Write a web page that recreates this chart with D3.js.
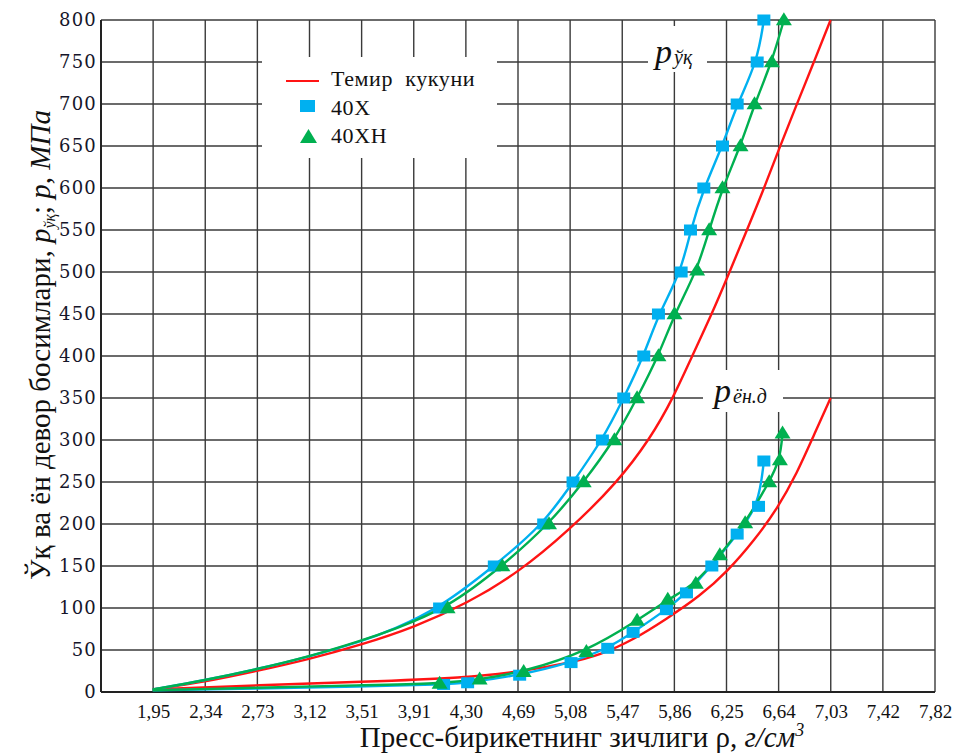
<!DOCTYPE html>
<html>
<head>
<meta charset="utf-8">
<script src="https://cdn.jsdelivr.net/npm/d3@7"></script>
<style>
  body { margin: 0; background: #fff; }
  svg { display: block; }
  svg text { font-family: "Liberation Serif", "Times New Roman", serif; }
  svg .y-axis text { font-family: "DejaVu Serif", serif; }
</style>
</head>
<body>
<div id="chart"></div>
<script>
// ---------------------------------------------------------------------------
// Data
const xTickLabels = ['1,95', '2,34', '2,73', '3,12', '3,51', '3,91', '4,30', '4,69',
  '5,08', '5,47', '5,86', '6,25', '6,64', '7,03', '7,42', '7,82'];
const yTickValues = [0, 50, 100, 150, 200, 250, 300, 350, 400, 450, 500, 550, 600, 650, 700, 750, 800];

// Темир кукуни (fitted curves only)
const ironUpper = [[1.95, 3], [2.34, 12], [2.73, 25], [3.12, 39], [3.51, 56], [3.91, 77],
  [4.30, 105], [4.69, 142], [5.08, 194], [5.43, 249], [5.68, 302], [5.85, 350], [5.99, 399],
  [6.14, 450], [6.26, 495], [6.39, 545], [6.52, 595], [6.64, 645], [6.77, 697], [6.90, 748], [7.03, 800]];
const ironLower = [[1.95, 3], [2.73, 8], [3.51, 12], [4.30, 17], [4.70, 24], [5.08, 35],
  [5.30, 44], [5.55, 62], [5.80, 87], [6.05, 114], [6.26, 144], [6.46, 181], [6.63, 218],
  [6.78, 261], [6.90, 304], [7.03, 350]];

// 40Х
const blueUpperStart = [[1.95, 3], [2.34, 14], [2.73, 27], [3.12, 42], [3.51, 60], [3.75, 74]];
const blueUpper = [[4.10, 100], [4.51, 150], [4.88, 200], [5.10, 250], [5.32, 300], [5.48, 350],
  [5.63, 400], [5.74, 450], [5.91, 500], [5.98, 550], [6.08, 600], [6.22, 650], [6.33, 700],
  [6.48, 750], [6.53, 800]];
const blueLowerStart = [[1.95, 2], [2.73, 4], [3.51, 6.5]];
const blueLower = [[4.13, 9], [4.31, 11], [4.70, 20], [5.085, 35], [5.36, 52], [5.55, 71],
  [5.80, 98], [5.95, 118], [6.14, 150], [6.33, 188], [6.49, 221], [6.53, 275]];

// 40ХН
const greenUpperStart = [[1.95, 3], [2.34, 14], [2.73, 27], [3.12, 42], [3.51, 61], [3.75, 74]];
const greenUpper = [[4.16, 100], [4.57, 150], [4.92, 200], [5.18, 250], [5.41, 300], [5.58, 350],
  [5.74, 400], [5.86, 450], [6.03, 502], [6.12, 550], [6.22, 600], [6.355, 650], [6.46, 700],
  [6.59, 750], [6.68, 800]];
const greenLowerStart = [[1.95, 2], [2.73, 5], [3.51, 8]];
const greenLower = [[4.10, 10], [4.40, 15], [4.73, 24], [5.20, 48], [5.58, 85], [5.81, 110],
  [6.02, 129], [6.20, 163], [6.39, 201], [6.57, 250], [6.65, 276], [6.67, 308]];

const legendItems = ['Темир  кукуни', '40Х', '40ХН'];

// ---------------------------------------------------------------------------
// Layout
const width = 963, height = 755;
const step = 0.390625;
const colors = { iron: '#ff1414', blue: '#00b0f0', green: '#00b050' };
const gridColor = '#3a3a3a';

const x = d3.scaleLinear().domain([4 * step, 20 * step]).range([101, 935]);
const y = d3.scaleLinear().domain([0, 800]).range([692, 20]);
const xTickValues = xTickLabels.map((d, i) => (i + 5) * step);

const svg = d3.select('#chart').append('svg')
  .attr('width', width)
  .attr('height', height);

// grid
const grid = svg.append('g').attr('class', 'grid');
grid.selectAll('.hline').data(yTickValues).enter().append('line')
  .attr('x1', x.range()[0]).attr('x2', x.range()[1])
  .attr('y1', d => y(d)).attr('y2', d => y(d))
  .attr('stroke', gridColor).attr('stroke-width', 1.4);
grid.selectAll('.vline').data(xTickValues).enter().append('line')
  .attr('x1', d => x(d)).attr('x2', d => x(d))
  .attr('y1', y(800)).attr('y2', y(0))
  .attr('stroke', gridColor).attr('stroke-width', 1.4);
// axis frame
grid.append('line').attr('x1', x.range()[0]).attr('x2', x.range()[0])
  .attr('y1', y(800)).attr('y2', y(0)).attr('stroke', '#222').attr('stroke-width', 2);
grid.append('line').attr('x1', x.range()[0]).attr('x2', x.range()[1])
  .attr('y1', y(0)).attr('y2', y(0)).attr('stroke', '#222').attr('stroke-width', 2);

// axes labels (d3 axes with hidden domain/ticks)
const xAxis = d3.axisBottom(x).tickValues(xTickValues)
  .tickFormat((d, i) => xTickLabels[i]).tickSize(0).tickPadding(17);
svg.append('g').attr('class', 'x-axis').attr('transform', `translate(0,${y(0) - 4})`).call(xAxis)
  .call(g => g.select('.domain').remove())
  .selectAll('text').attr('font-size', 19).attr('fill', '#111');

const yAxis = d3.axisLeft(y).tickValues(yTickValues).tickSize(0).tickPadding(4);
svg.append('g').attr('class', 'y-axis').attr('transform', `translate(${x.range()[0]},0)`).call(yAxis)
  .call(g => g.select('.domain').remove())
  .selectAll('text').attr('font-size', 18).attr('fill', '#15152a').attr('letter-spacing', 1.2);

// white boxes behind legend and curve labels
svg.append('rect').attr('x', 262).attr('y', 57).attr('width', 235).attr('height', 101).attr('fill', '#fff');
svg.append('rect').attr('x', 648).attr('y', 26).attr('width', 59).attr('height', 46).attr('fill', '#fff');
svg.append('rect').attr('x', 703).attr('y', 370).attr('width', 80).attr('height', 42).attr('fill', '#fff');

// curves (smooth fits)
const line = d3.line().x(d => x(d[0])).y(d => y(d[1])).curve(d3.curveBasis);
const curves = [
  { data: ironUpper, color: colors.iron },
  { data: ironLower, color: colors.iron },
  { data: blueUpperStart.concat(blueUpper), color: colors.blue },
  { data: blueLowerStart.concat(blueLower), color: colors.blue },
  { data: greenUpperStart.concat(greenUpper), color: colors.green },
  { data: greenLowerStart.concat(greenLower), color: colors.green }
];
svg.append('g').selectAll('path').data(curves).enter().append('path')
  .attr('d', d => line(d.data))
  .attr('fill', 'none')
  .attr('stroke', d => d.color)
  .attr('stroke-width', 2.4);

// markers
const sqW = 13, sqH = 11, triW = 16, triH = 13;
function triPath(cx, cy) {
  return `M${cx},${cy - triH * 0.6}L${cx + triW / 2},${cy + triH * 0.4}L${cx - triW / 2},${cy + triH * 0.4}Z`;
}
svg.append('g').selectAll('rect').data(blueUpper.concat(blueLower)).enter().append('rect')
  .attr('x', d => x(d[0]) - sqW / 2).attr('y', d => y(d[1]) - sqH / 2)
  .attr('width', sqW).attr('height', sqH).attr('fill', colors.blue);
svg.append('g').selectAll('path').data(greenUpper.concat(greenLower)).enter().append('path')
  .attr('d', d => triPath(x(d[0]), y(d[1])))
  .attr('fill', colors.green);

// legend
const legend = svg.append('g').attr('font-size', 22).attr('fill', '#111').attr('letter-spacing', 0.6);
legend.append('line').attr('x1', 286).attr('x2', 319).attr('y1', 81).attr('y2', 81)
  .attr('stroke', colors.iron).attr('stroke-width', 2);
legend.append('rect').attr('x', 300).attr('y', 100).attr('width', 15).attr('height', 12).attr('fill', colors.blue);
legend.append('path').attr('d', 'M308.5,129L317,143L300,143Z').attr('fill', colors.green);
legend.selectAll('text').data(legendItems).enter().append('text')
  .attr('x', 331).attr('y', (d, i) => 86 + i * 28.5)
  .attr('xml:space', 'preserve').style('white-space', 'pre')
  .text(d => d);

// curve labels
function curveLabel(px, py, sub) {
  const t = svg.append('text').attr('x', px).attr('y', py).attr('font-style', 'italic').attr('fill', '#111');
  t.append('tspan').attr('font-size', 34).text('p');
  t.append('tspan').attr('font-size', 20).attr('dx', 2).attr('dy', 1).text(sub);
}
curveLabel(655, 63, 'ўқ');
curveLabel(714, 402, 'ён.д');

// axis titles
const xt = svg.append('text').attr('x', 582).attr('y', 747).attr('text-anchor', 'middle')
  .attr('font-size', 29).attr('fill', '#111');
xt.append('tspan').text('Пресс-бирикетнинг зичлиги ρ, ');
xt.append('tspan').attr('font-style', 'italic').text('г/см');
xt.append('tspan').attr('font-style', 'italic').attr('font-size', 18).attr('dy', -11).text('3');

const yt = svg.append('text').attr('transform', 'translate(50,345) rotate(-90)')
  .attr('text-anchor', 'middle').attr('font-size', 29).attr('fill', '#111');
yt.append('tspan').text('Ўқ ва ён девор босимлари, ');
yt.append('tspan').attr('font-style', 'italic').text('p');
yt.append('tspan').attr('font-style', 'italic').attr('font-size', 16).attr('dy', 5).text('ўқ');
yt.append('tspan').attr('dy', -5).text('; ');
yt.append('tspan').attr('font-style', 'italic').text('p');
yt.append('tspan').text(', ');
yt.append('tspan').attr('font-style', 'italic').text('МПа');
</script>
</body>
</html>
